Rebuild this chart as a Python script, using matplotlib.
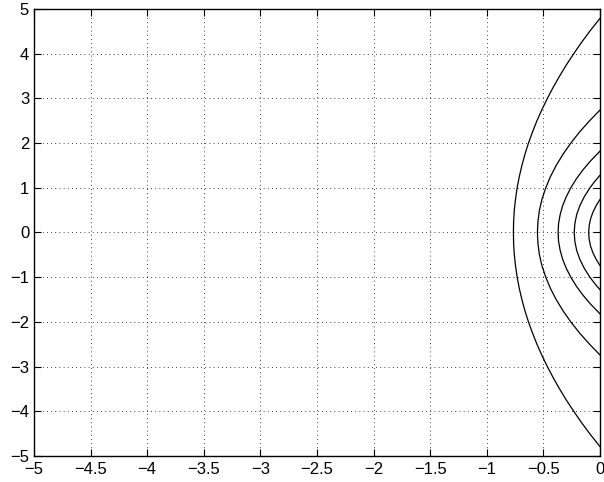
import numpy as np
import matplotlib.pyplot as plt

plt.rcParams['font.family'] = ['Liberation Sans', 'DejaVu Sans']

# contour curves, upper half (y, x); lower half is the mirror
c1_y = [4.79, 4.5, 4.25, 4.0, 3.75, 3.5, 3.25, 3.0, 2.75, 2.5, 2.25, 2.0, 1.75, 1.5,
        1.25, 1.0, 0.75, 0.5, 0.25, 0.0]
c1_x = [0.0, -0.091, -0.164, -0.232, -0.297, -0.357, -0.413, -0.465, -0.513, -0.557,
        -0.596, -0.632, -0.663, -0.690, -0.713, -0.732, -0.746, -0.757, -0.763, -0.765]
c2_y = [2.74, 2.5, 2.25, 2.0, 1.75, 1.5, 1.25, 1.0, 0.75, 0.5, 0.25, 0.0]
c2_x = [0.0, -0.092, -0.180, -0.258, -0.327, -0.387, -0.438, -0.479, -0.512, -0.535,
        -0.548, -0.553]
c3_y = [1.82, 1.6, 1.4, 1.2, 1.0, 0.8, 0.6, 0.4, 0.2, 0.0]
c3_x = [0.0, -0.084, -0.151, -0.209, -0.258, -0.298, -0.330, -0.352, -0.366, -0.370]
c4_y = [1.28, 1.15, 1.0, 0.8, 0.6, 0.4, 0.2, 0.0]
c4_x = [0.0, -0.044, -0.089, -0.139, -0.178, -0.206, -0.222, -0.228]
c5_y = [0.74, 0.6, 0.45, 0.3, 0.15, 0.0]
c5_x = [0.0, -0.034, -0.063, -0.084, -0.096, -0.100]

curves = [(c1_x, c1_y), (c2_x, c2_y), (c3_x, c3_y), (c4_x, c4_y), (c5_x, c5_y)]

x_ticks = [-5, -4.5, -4, -3.5, -3, -2.5, -2, -1.5, -1, -0.5, 0]
y_ticks = [-5, -4, -3, -2, -1, 0, 1, 2, 3, 4, 5]

fig = plt.figure(figsize=(6.04, 4.82), dpi=100)
ax = fig.add_axes([34/604, 26/482, 566/604, 447/482])

for cx, cy in curves:
    # join upper half with its mirror image
    xs = np.concatenate([cx, cx[-2::-1]])
    ys = np.concatenate([cy, -np.array(cy[-2::-1])])
    ax.plot(xs, ys, color='black', linewidth=0.9, solid_joinstyle='round')

ax.set_xlim(-5, 0)
ax.set_ylim(-5, 5)
ax.set_xticks(x_ticks)
ax.set_yticks(y_ticks)
ax.set_xticklabels([('%g' % t).replace('-', '\u2212') for t in x_ticks])
ax.set_yticklabels([('%g' % t).replace('-', '\u2212') for t in y_ticks])
ax.tick_params(direction='in', top=True, right=True, length=5, width=0.8,
               labelsize=12)
ax.tick_params(axis='y', pad=3.5)
ax.tick_params(axis='x', pad=4)
ax.grid(True, color='black', linestyle=(0, (1, 4)), linewidth=0.6)
for s in ax.spines.values():
    s.set_linewidth(1.0)

fig.savefig('out.png', dpi=100)
